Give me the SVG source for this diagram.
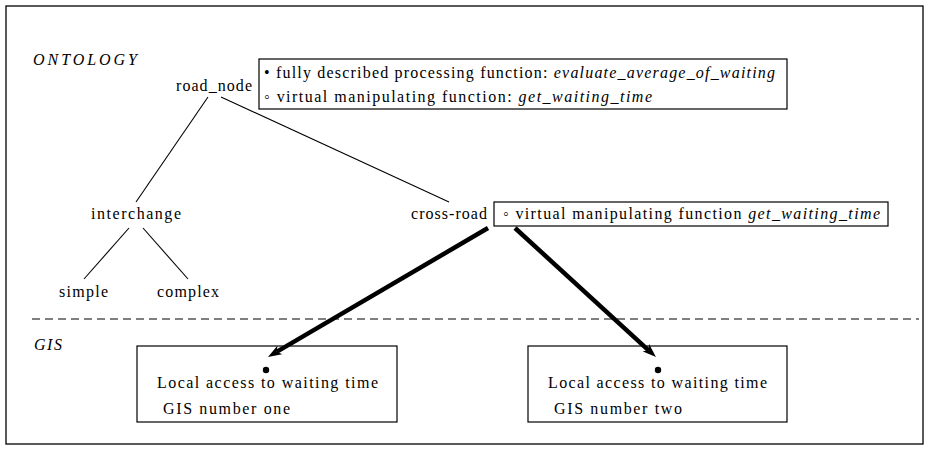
<svg xmlns="http://www.w3.org/2000/svg" width="931" height="449" viewBox="0 0 931 449">
<style>
.t{font-family:"Liberation Serif","DejaVu Serif","Times New Roman",serif;font-size:16px;fill:#000}
.it{font-style:italic}
.box{fill:#fff;stroke:#000;stroke-width:1.2}
.tree{stroke:#000;stroke-width:1.1;fill:none}
.thick{stroke:#000;stroke-width:4.5;fill:none}
</style>
<defs>
<marker id="ah" viewBox="0 0 14 10" refX="4" refY="5" markerWidth="14" markerHeight="10" orient="auto" markerUnits="userSpaceOnUse">
<path d="M0,0 L14,5 L0,10 L4,5 z" fill="#000"/>
</marker>
</defs>
<rect x="6" y="6" width="917" height="438" fill="#fff" stroke="#000" stroke-width="1.3"/>
<text class="t it" x="33" y="65" textLength="104" lengthAdjust="spacing">ONTOLOGY</text>
<text class="t it" x="34" y="350" textLength="28" lengthAdjust="spacing">GIS</text>
<line x1="32" y1="319" x2="919" y2="319" stroke="#555" stroke-width="1.3" stroke-dasharray="8,5"/>
<g id="road_node">
<text class="t" x="176" y="91" textLength="76" lengthAdjust="spacing">road_node</text>
<rect class="box" x="259" y="59" width="528" height="50"/>
<text class="t" x="264" y="78" textLength="511" lengthAdjust="spacing">• fully described processing function: <tspan class="it">evaluate_average_of_waiting</tspan></text>
<text class="t" x="264" y="102" textLength="388" lengthAdjust="spacing">◦ virtual manipulating function: <tspan class="it">get_waiting_time</tspan></text>
</g>
<g id="interchange">
<text class="t" x="91" y="219" textLength="90" lengthAdjust="spacing">interchange</text>
</g>
<g id="simple">
<text class="t" x="59" y="297" textLength="49" lengthAdjust="spacing">simple</text>
</g>
<g id="complex">
<text class="t" x="157" y="297" textLength="62" lengthAdjust="spacing">complex</text>
</g>
<g id="cross-road">
<text class="t" x="411" y="219" textLength="76" lengthAdjust="spacing">cross-road</text>
<rect class="box" x="494" y="202" width="394" height="24"/>
<text class="t" x="503" y="219" textLength="377" lengthAdjust="spacing">◦ virtual manipulating function <tspan class="it">get_waiting_time</tspan></text>
</g>
<g id="gis1">
<rect class="box" x="137" y="346" width="260" height="76"/>
<circle cx="266" cy="370" r="3.2" fill="#000"/>
<text class="t" x="157" y="388" textLength="221" lengthAdjust="spacing">Local access to waiting time</text>
<text class="t" x="163" y="414" textLength="127" lengthAdjust="spacing">GIS number one</text>
</g>
<g id="gis2">
<rect class="box" x="528" y="346" width="259" height="76"/>
<circle cx="658" cy="370" r="3.2" fill="#000"/>
<text class="t" x="548" y="388" textLength="219" lengthAdjust="spacing">Local access to waiting time</text>
<text class="t" x="554" y="414" textLength="128" lengthAdjust="spacing">GIS number two</text>
</g>
<g id="connectors">
<line class="tree" x1="208" y1="97" x2="136" y2="202"/>
<line class="tree" x1="221" y1="97" x2="449" y2="202"/>
<line class="tree" x1="129" y1="228" x2="84" y2="279"/>
<line class="tree" x1="143" y1="228" x2="188" y2="279"/>
<line class="thick" x1="488" y1="228" x2="276.6" y2="351.9" marker-end="url(#ah)"/>
<line class="thick" x1="515" y1="228" x2="648.6" y2="350.3" marker-end="url(#ah)"/>
</g>
</svg>
